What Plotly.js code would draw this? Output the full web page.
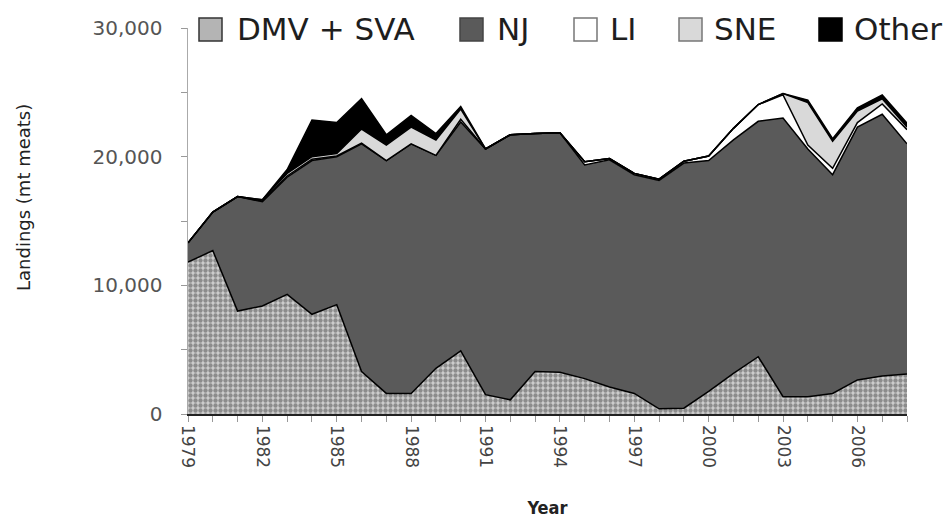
<!DOCTYPE html>
<html><head><meta charset="utf-8">
<script src="https://cdn.plot.ly/plotly-3.0.1.min.js"></script>
<style>html,body{margin:0;padding:0;background:#fff}#chart{width:950px;height:521px}</style>
</head><body><div id="chart"></div>
<script>
// ---- data (metric tons of meats) ----
const years = [1979,1980,1981,1982,1983,1984,1985,1986,1987,1988,1989,1990,1991,1992,1993,1994,1995,1996,1997,1998,1999,2000,2001,2002,2003,2004,2005,2006,2007,2008];
const dmvSva = [11800,12700,8000,8400,9300,7750,8500,3300,1600,1600,3550,4900,1500,1100,3300,3250,2750,2100,1600,400,450,1750,3150,4450,1350,1350,1600,2650,2950,3100];
const nj     = [1500,3000,8900,8100,9100,11950,11500,17700,18100,19400,16550,17800,19100,20600,18500,18600,16600,17650,17000,17750,19050,17950,18150,18300,21650,19250,17000,19650,20350,17900];
const li     = [0,0,0,50,100,100,50,50,0,0,0,200,0,0,0,0,250,100,100,100,150,350,900,1300,1800,300,500,350,800,1100];
const sne    = [0,0,0,100,200,200,200,1100,1200,1300,1200,800,0,0,0,0,0,0,0,0,0,0,0,0,100,3300,2100,900,400,200];
const other  = [0,0,0,0,300,2850,2400,2350,800,900,500,200,0,0,0,0,0,0,0,0,0,0,0,0,0,200,200,250,300,300];
const seriesNames = ['DMV + SVA','NJ','LI','SNE','Other'];
const yTitle = 'Landings (mt meats)';
const xTitle = 'Year';

// ---- styles ----
const fills = ['#b4b4b4','#5a5a5a','#ffffff','#d9d9d9','#000000'];
const legendBorders = ['#333333','#444444','#777777','#777777','#000000'];
const seriesData = [dmvSva, nj, li, sne, other];

const traces = seriesData.map((vals, i) => {
  const t = {
    x: years, y: vals, name: seriesNames[i], type: 'scatter', mode: 'lines',
    stackgroup: 'one', fillcolor: fills[i],
    line: {color: '#000', width: 1.5},
    showlegend: false, hoverinfo: 'skip'
  };
  if (i === 0) {
    t.fillpattern = {shape: '.', bgcolor: '#cfcfcf', fgcolor: '#8c8c8c', size: 5, solidity: 0.6};
  }
  return t;
});

// plot area in pixels
const L = 188, R = 907, T = 28, B = 414;
const W = 950, H = 521;
const px2x = p => (p - L) / (R - L);
const px2y = p => (B - p) / (B - T);

// manual legend (boxes + text)
const boxLeft = [199, 460, 574, 679, 819];
const textLeft = [235, 495, 608, 712, 852];
const shapes = [];
const annotations = [];
seriesNames.forEach((nm, i) => {
  shapes.push({
    type: 'rect', xref: 'paper', yref: 'paper',
    x0: px2x(boxLeft[i]), x1: px2x(boxLeft[i] + 23),
    y0: px2y(41), y1: px2y(18),
    fillcolor: fills[i], line: {color: legendBorders[i], width: 1.5}, layer: 'above'
  });
  annotations.push({
    xref: 'paper', yref: 'paper', x: px2x(textLeft[i]), y: px2y(29),
    xanchor: 'left', yanchor: 'middle', showarrow: false, text: nm,
    font: {family: 'DejaVu Sans', size: 31, color: '#1e1e1e'}
  });
});
annotations.push({
  xref: 'paper', yref: 'paper', x: px2x(23), y: px2y(198),
  xanchor: 'center', yanchor: 'middle', showarrow: false, textangle: -90,
  text: yTitle, font: {family: 'DejaVu Sans', size: 18, color: '#222'}
});

const layout = {
  width: W, height: H,
  margin: {l: L, r: W - R, t: T, b: H - B, pad: 0},
  paper_bgcolor: '#fff', plot_bgcolor: '#fff',
  showlegend: false,
  hovermode: false,
  xaxis: {
    range: [1979, 2008], tickmode: 'linear', tick0: 1979, dtick: 3,
    tickangle: 90, ticks: 'outside', ticklen: 6, tickcolor: '#999', tickwidth: 1,
    minor: {tick0: 1979, dtick: 1, ticks: 'outside', ticklen: 6, tickcolor: '#999', tickwidth: 1},
    showgrid: false, zeroline: false,
    showline: true, linecolor: '#222', linewidth: 1.5,
    tickfont: {family: 'DejaVu Sans', size: 17, color: '#444'},
    title: {text: xTitle, standoff: 34, font: {family: 'DejaVu Sans Condensed, DejaVu Sans', size: 18, color: '#222', weight: 'bold'}}
  },
  yaxis: {
    range: [0, 30000], tickmode: 'linear', tick0: 0, dtick: 10000, tickformat: ',d',
    ticks: 'outside', ticklen: 6, tickcolor: '#999', tickwidth: 1,
    minor: {dtick: 5000, ticks: 'outside', ticklen: 6, tickcolor: '#999', tickwidth: 1},
    ticklabelstandoff: 14,
    showgrid: false, zeroline: false,
    showline: true, linecolor: '#aaa', linewidth: 1.5,
    tickfont: {family: 'DejaVu Sans', size: 20, color: '#555'}
  },
  shapes: shapes,
  annotations: annotations
};

Plotly.newPlot('chart', traces, layout, {displayModeBar: false, staticPlot: true});
</script>
</body></html>
